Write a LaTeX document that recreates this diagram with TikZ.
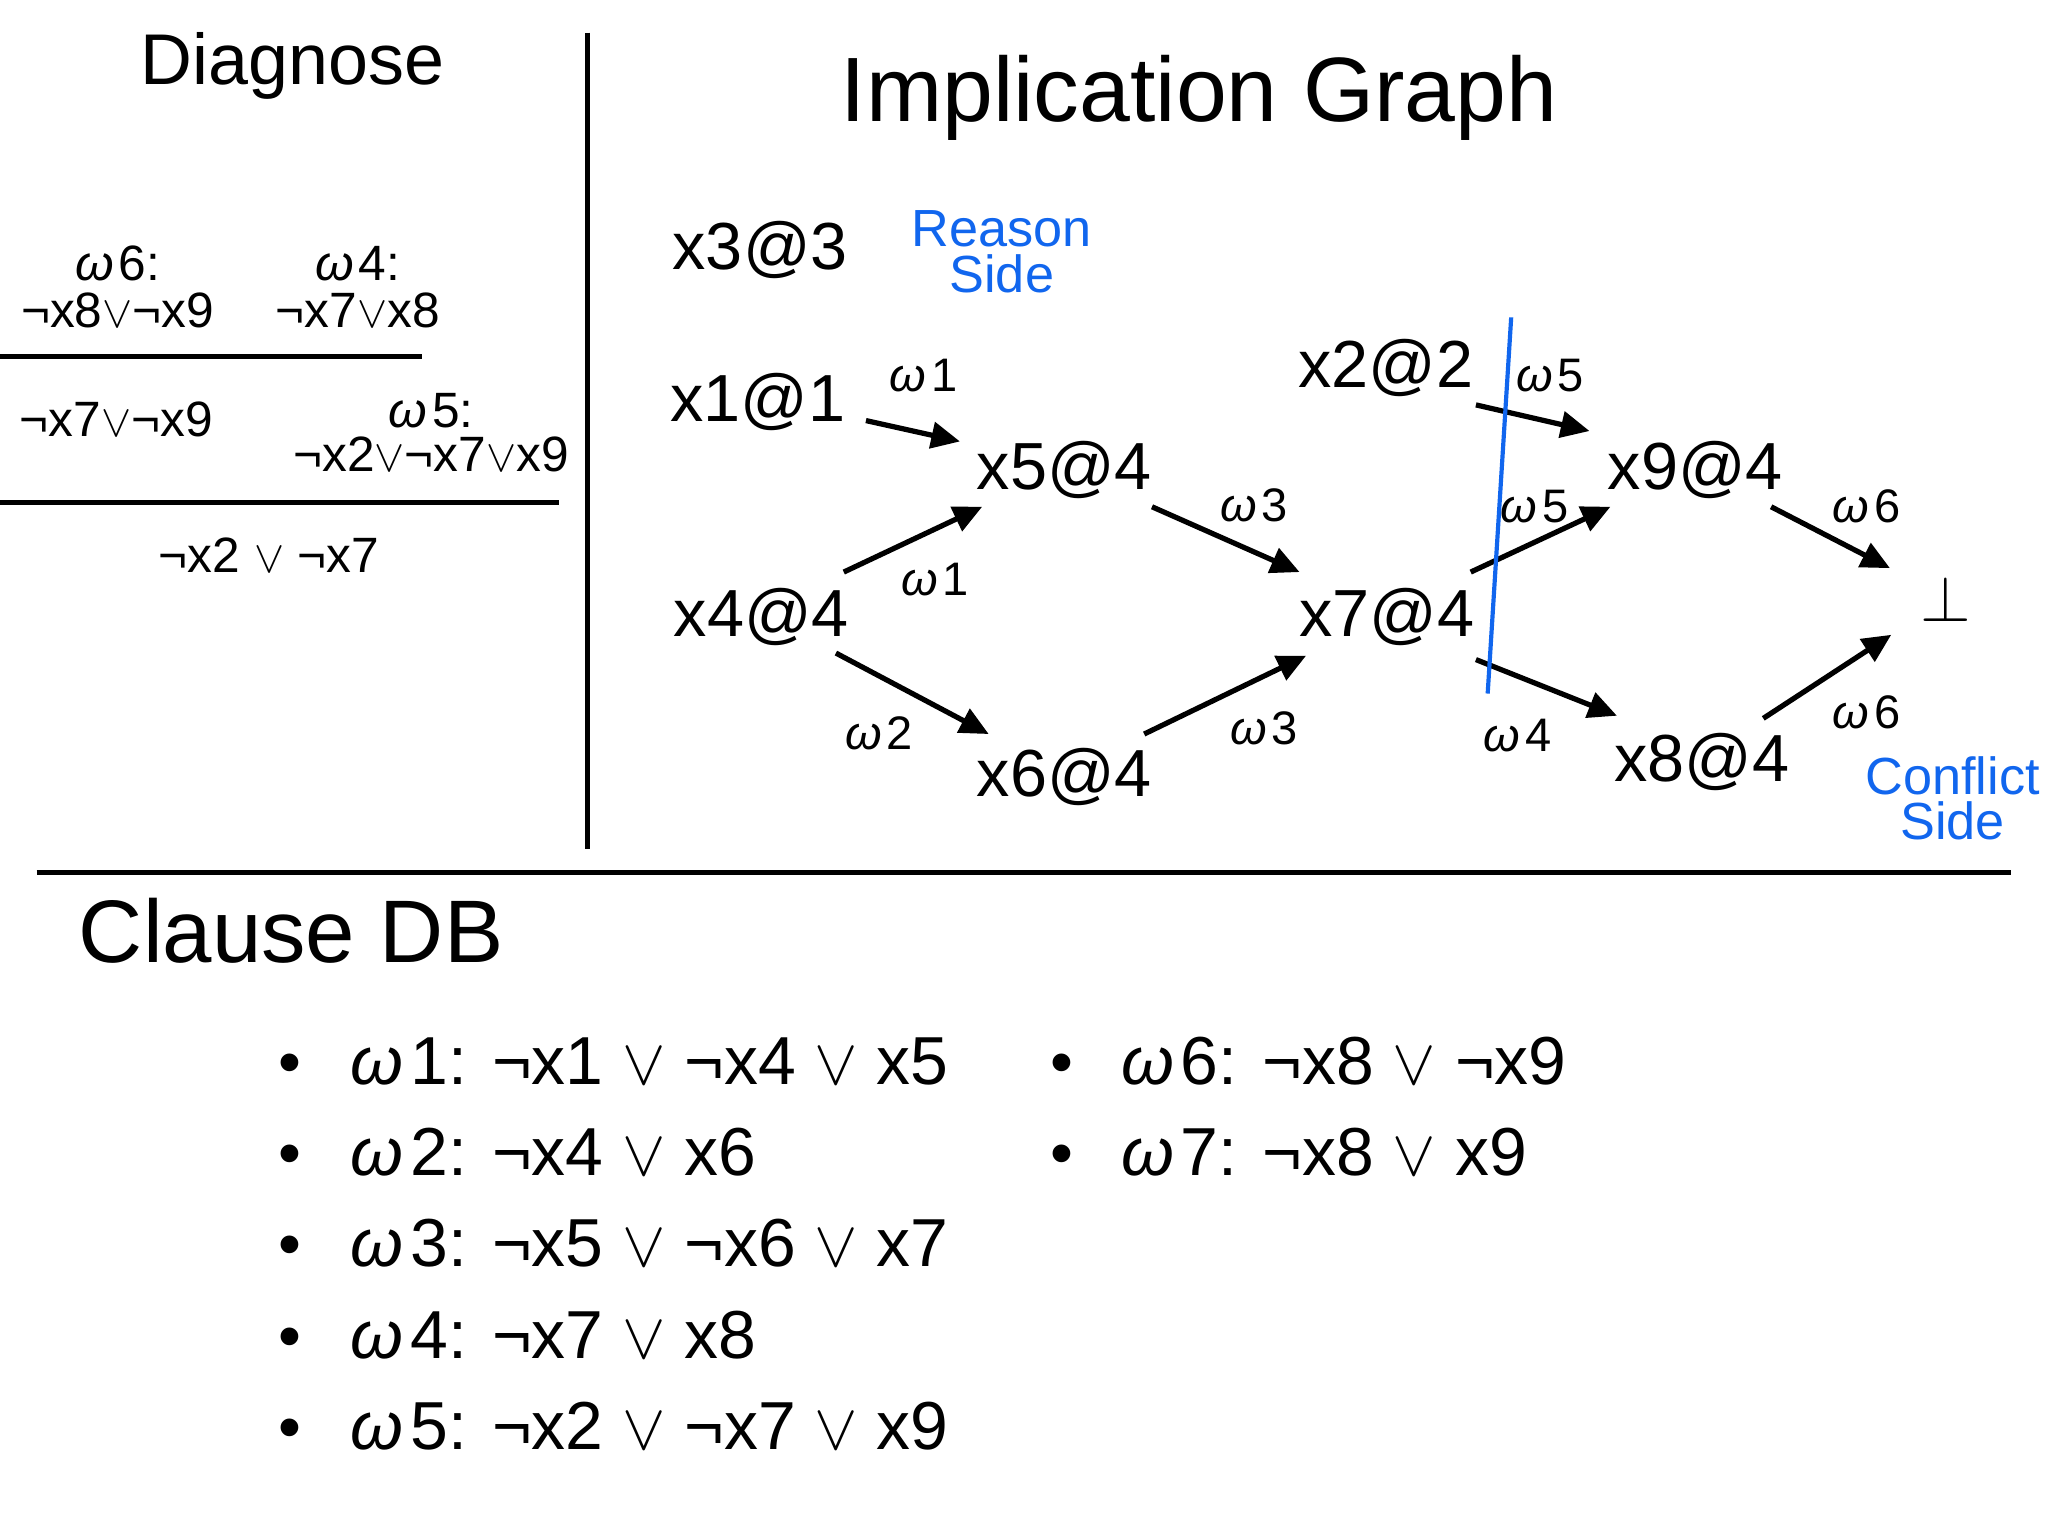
\documentclass[tikz,border=0pt]{standalone}
\usepackage{fontspec}
\setmainfont{Liberation Sans}
\usetikzlibrary{arrows.meta,calc}
\newcommand\orr{\ensuremath{\vee}}
\newcommand\omg[1]{{\itshape ω}\hspace{0.1em}#1}
\definecolor{kblue}{RGB}{17,102,238}
\begin{document}
\begin{tikzpicture}[x=0.5pt,y=-0.5pt,
  txt/.style={inner sep=0pt,anchor=base},
  title/.style={txt,font=\fontsize{35}{40}\selectfont},
  gnode/.style={txt,font=\fontsize{25.5}{28}\selectfont},
  wlab/.style={txt,font=\fontsize{18}{21}\selectfont},
  diag/.style={txt,font=\fontsize{19}{18}\selectfont,align=center},
  side/.style={txt,font=\fontsize{20}{17.5}\selectfont,text=kblue,align=center},
  item/.style={txt,anchor=base west,font=\fontsize{26}{30}\selectfont},
  bul/.style={txt,font=\fontsize{25}{30}\selectfont},
  rule/.style={line width=2pt},
  arr/.style={line width=2pt,-{Triangle[length=11pt,width=10pt]}}]
\useasboundingbox (0,0) rectangle (1568,1176);

% frame rules
\draw[rule] (450,25) -- (450,650);
\draw[rule] (28,668) -- (1540,668);

% Diagnose
\node[txt,font=\fontsize{27.5}{32}\selectfont] (diagT) at (224,65) {Diagnose};
\node[diag] (d6) at (90,251) {\omg{6}:\\¬x8\orr¬x9};
\node[diag] (d4) at (274,251) {\omg{4}:\\¬x7\orr x8};
\draw[rule] (0,273) -- (323,273);
\node[diag] (r1) at (89,334) {¬x7\orr¬x9};
\node[diag,font=\fontsize{19}{17}\selectfont] (d5) at (330,361) {\omg{5}:\\¬x2\orr¬x7\orr x9};
\draw[rule] (0,385) -- (428,385);
\node[diag] (r2) at (206,438) {¬x2 \orr{} ¬x7};

% Implication graph
\node[title] (igT) at (918,93) {Implication Graph};
\node[gnode] (x3) at (582,206) {x3@3};
\node[side] (rs) at (767,224) {Reason\\Side};
\node[gnode] (x1) at (580,323) {x1@1};
\node[gnode] (x5) at (815,375) {x5@4};
\node[gnode] (x4) at (583,487) {x4@4};
\node[gnode] (x6) at (815,610) {x6@4};
\node[gnode] (x7) at (1062,487) {x7@4};
\node[gnode] (x2) at (1061,297) {x2@2};
\node[gnode] (x9) at (1298,375) {x9@4};
\node[gnode] (x8) at (1303,598) {x8@4};
\node[txt,font=\fontsize{26}{28}\selectfont] (bot) at (1490,476) {$\bot$};
\node[side] (cs) at (1495,643) {Conflict\\Side};

\draw[arr] ($(x1.base)+(83,-1)$) -- ($(x5.base)+(-80,-37)$);
\draw[arr] ($(x4.base)+(63,-49)$) -- ($(x5.base)+(-63,13)$);
\draw[arr] ($(x4.base)+(57,13)$) -- ($(x6.base)+(-58,-48)$);
\draw[arr] ($(x5.base)+(67,13)$) -- ($(x7.base)+(-67,-49)$);
\draw[arr] ($(x6.base)+(61,-48)$) -- ($(x7.base)+(-62,15)$);
\draw[arr] ($(x2.base)+(69,13)$) -- ($(x9.base)+(-81,-45)$);
\draw[arr] ($(x7.base)+(64,-49)$) -- ($(x9.base)+(-65,13)$);
\draw[arr] ($(x7.base)+(68,18)$) -- ($(x8.base)+(-65,-50)$);
\draw[arr] ($(x9.base)+(58,13)$) -- ($(bot.base)+(-43,-41)$);
\draw[arr] ($(x8.base)+(47,-48)$) -- ($(bot.base)+(-42,10)$);

\node[wlab] (l1) at (707,300) {\omg{1}};
\node[wlab] (l2) at (716,456) {\omg{1}};
\node[wlab] (l3) at (673,574) {\omg{2}};
\node[wlab] (l4) at (960,399) {\omg{3}};
\node[wlab] (l5) at (968,570) {\omg{3}};
\node[wlab] (l6) at (1187,300) {\omg{5}};
\node[wlab] (l7) at (1175,400) {\omg{5}};
\node[wlab] (l8) at (1162,575) {\omg{4}};
\node[wlab] (l9) at (1429,400) {\omg{6}};
\node[wlab] (l10) at (1429,558) {\omg{6}};

% cut line
\draw[kblue,line width=1.6pt] (1157,243) -- (1139,531);

% Clause DB
\node[txt,anchor=base west,font=\fontsize{34}{40}\selectfont] (cdb) at (60,737) {Clause DB};
\foreach \y/\t [count=\i] in {830/{\omg{1}: ¬x1 \orr{} ¬x4 \orr{} x5},
                    900/{\omg{2}: ¬x4 \orr{} x6},
                    970/{\omg{3}: ¬x5 \orr{} ¬x6 \orr{} x7},
                    1040/{\omg{4}: ¬x7 \orr{} x8},
                    1110/{\omg{5}: ¬x2 \orr{} ¬x7 \orr{} x9}}{
  \node[bul] (b\i) at (222,\y) {•};
  \node[item] (c\i) at (268,\y) {\t};
}
\foreach \y/\t [count=\i from 6] in {830/{\omg{6}: ¬x8 \orr{} ¬x9},
                    900/{\omg{7}: ¬x8 \orr{} x9}}{
  \node[bul] (b\i) at (813,\y) {•};
  \node[item] (c\i) at (858,\y) {\t};
}
\end{tikzpicture}
\end{document}
